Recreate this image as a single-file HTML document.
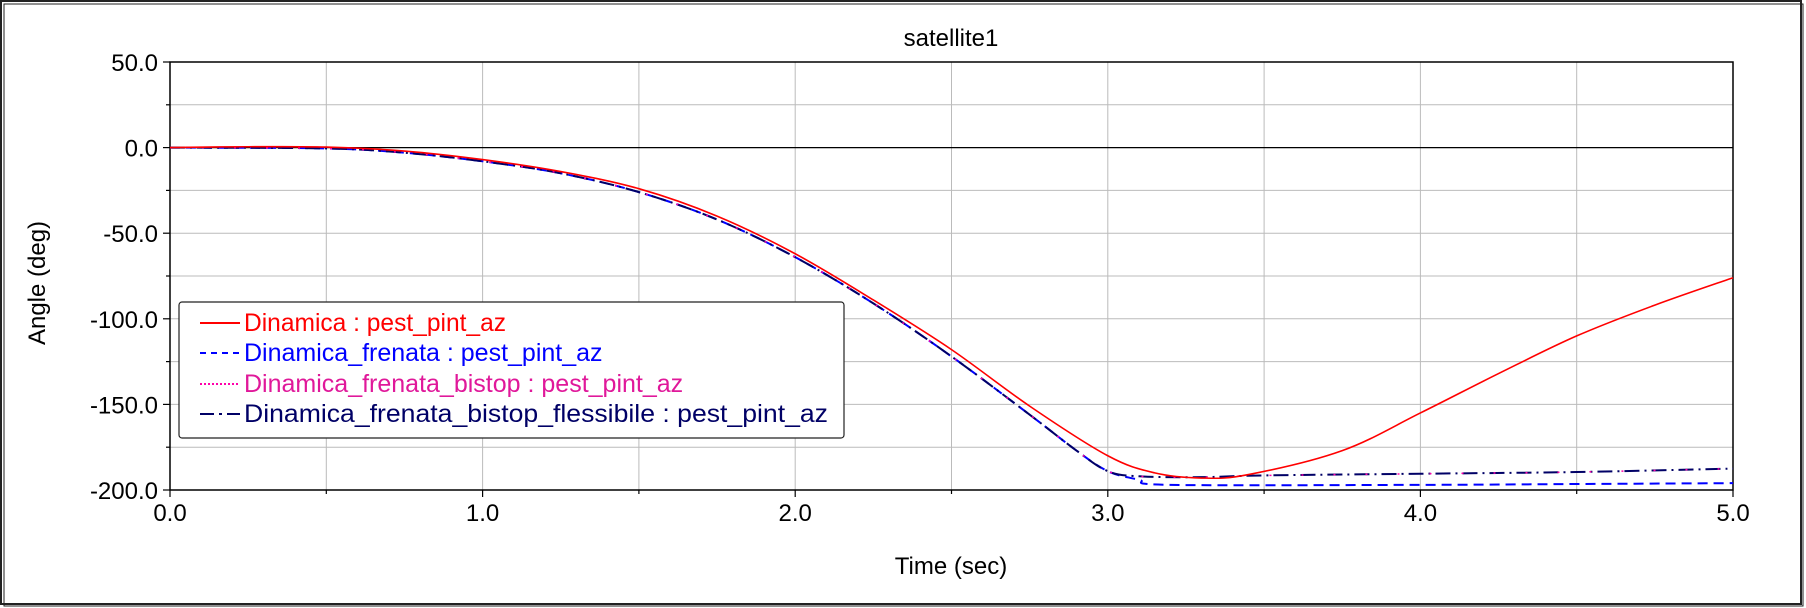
<!DOCTYPE html>
<html><head><meta charset="utf-8"><style>
html,body{margin:0;padding:0;background:#fff;}
svg{display:block;font-family:"Liberation Sans",Arial,sans-serif;}
</style></head><body>
<svg id="chart" width="1806" height="608">
<rect x="1" y="1" width="1800" height="603" fill="#fff" stroke="#222" stroke-width="2"/>
<rect x="4" y="4" width="1799" height="602" fill="none" stroke="#222" stroke-width="1"/>
<text x="951" y="46" font-size="24" text-anchor="middle">satellite1</text>
<text transform="translate(45,283) rotate(-90)" font-size="24" text-anchor="middle">Angle (deg)</text>
<text x="951" y="574" font-size="24" text-anchor="middle">Time (sec)</text>
<g id="grid"></g>
<g id="axes"></g>
<g id="series"></g>
<g>
<rect x="179" y="302" width="665" height="136" rx="3" fill="#fff" stroke="#222" stroke-width="1.2"/>
<line x1="200" y1="323" x2="240" y2="323" stroke="#f00" stroke-width="2"/>
<text x="244" y="331" font-size="25" fill="#f00" textLength="262" lengthAdjust="spacingAndGlyphs">Dinamica : pest_pint_az</text>
<line x1="200" y1="353" x2="240" y2="353" stroke="#00f" stroke-width="2" stroke-dasharray="6,5"/>
<text x="244" y="361" font-size="25" fill="#00f">Dinamica_frenata : pest_pint_az</text>
<line x1="200" y1="384" x2="240" y2="384" stroke="#f0a" stroke-width="2" stroke-dasharray="2,2"/>
<text x="244" y="392" font-size="25" fill="#e0189a">Dinamica_frenata_bistop : pest_pint_az</text>
<line x1="200" y1="414" x2="240" y2="414" stroke="#006" stroke-width="2" stroke-dasharray="14,5,3,5"/>
<text x="244" y="422" font-size="25" fill="#006" textLength="584" lengthAdjust="spacingAndGlyphs">Dinamica_frenata_bistop_flessibile : pest_pint_az</text>
</g>
</svg>
<script>
const xTicks=[0,1,2,3,4,5];
const yTicks=[50,0,-50,-100,-150,-200];
const tRed=[0,0.25,0.5,0.75,1,1.25,1.5,1.75,2,2.25,2.5,2.75,3,3.15,3.3,3.45,3.75,4,4.25,4.5,4.75,5];
const vRed=[0,0.5,0.3,-2,-7,-14,-24,-40,-62,-89,-118,-151,-180,-190,-193,-191,-177,-155,-132,-110,-92,-76];
const tFlex=[0,0.5,0.75,1,1.25,1.5,1.75,2,2.25,2.5,2.75,2.9,3,3.1,3.3,3.5,4,4.5,5];
const vFlex=[0,-0.5,-3,-8,-15,-26,-42,-64,-91,-122,-156,-177,-189,-192,-192.5,-191.5,-190.5,-189.5,-187.5];
const vBistop=[0,-0.5,-3,-8,-15,-26,-42,-64,-91,-122,-156,-177,-189,-192,-192.5,-191.5,-190.5,-189.5,-187.5];
const tBlue=[0,0.5,0.75,1,1.25,1.5,1.75,2,2.25,2.5,2.75,2.9,3,3.1,3.2,4,4.5,5];
const vBlue=[0,-0.5,-3,-8,-15,-26,-42,-64,-91,-122,-156,-177,-189,-194,-197,-197,-196.5,-196];
const L=170,R=1733,T=62,B=490;
const sx=t=>L+(t-0)/(5-0)*(R-L);
const sy=v=>T+(50-v)/(250)*(B-T);
const NS='http://www.w3.org/2000/svg';
function mk(tag,attrs,parent){const e=document.createElementNS(NS,tag);for(const k in attrs)e.setAttribute(k,attrs[k]);parent.appendChild(e);return e;}
const grid=document.getElementById('grid'),axes=document.getElementById('axes'),series=document.getElementById('series');
for(let i=1;i<10;i++){const x=sx(i*0.5);
 const g=mk('line',{x1:x,x2:x,y1:T,y2:B,stroke:'#bbb','stroke-width':1},grid);
 
 }
for(let i=1;i<10;i++){const v=50-i*25;const y=sy(v);
 const g=mk('line',{x1:L,x2:R,y1:y,y2:y,stroke:v===0?'#000':'#bbb','stroke-width':v===0?1.2:1},grid);
 
 }
const fr=mk('path',{d:`M${L},${T}H${R}V${B}H${L}Z`,fill:'none',stroke:'#000','stroke-width':1.5},axes);


for(let i=0;i<=10;i++){const x=sx(i*0.5);const len=i%2?4:7;
 const tk=mk('line',{x1:x,x2:x,y1:B,y2:B+len,stroke:'#000','stroke-width':1.2},axes);
 
 }
for(let i=0;i<=10;i++){const y=sy(50-i*25);const len=i%2?4:7;
 const tk=mk('line',{x1:L-len,x2:L,y1:y,y2:y,stroke:'#000','stroke-width':1.2},axes);
 
 }
xTicks.forEach(t=>{const e=mk('text',{x:sx(t),y:B+31,'font-size':24,'text-anchor':'middle'},axes);e.textContent=t.toFixed(1);
 
 });
yTicks.forEach(v=>{const e=mk('text',{x:L-12,y:sy(v)+9,'font-size':24,'text-anchor':'end'},axes);e.textContent=v.toFixed(1);
 
 });
function pathFor(ts,vs){const p=ts.map((t,i)=>[sx(t),sy(vs[i])]);let d=`M${p[0][0]},${p[0][1]}`;
 for(let i=0;i<p.length-1;i++){const p0=p[Math.max(0,i-1)],p1=p[i],p2=p[i+1],p3=p[Math.min(p.length-1,i+2)];
  const c1=[p1[0]+(p2[0]-p0[0])/6,p1[1]+(p2[1]-p0[1])/6],c2=[p2[0]-(p3[0]-p1[0])/6,p2[1]-(p3[1]-p1[1])/6];
  d+=`C${c1[0]},${c1[1]} ${c2[0]},${c2[1]} ${p2[0]},${p2[1]}`;}return d;}
const sBlue=mk('path',{d:pathFor(tBlue,vBlue),fill:'none',stroke:'#00f','stroke-width':2,'stroke-dasharray':'10,6'},series);


const sFlex=mk('path',{d:pathFor(tFlex,vFlex),fill:'none',stroke:'#006','stroke-width':2,'stroke-dasharray':'15,5,2,5'},series);


const sBis=mk('path',{d:pathFor(tFlex,vBistop),fill:'none',stroke:'#f0a','stroke-width':1.5,'stroke-dasharray':'2,30'},series);


const sRed=mk('path',{d:pathFor(tRed,vRed),fill:'none',stroke:'#f00','stroke-width':1.6},series);


</script>
</body></html>
